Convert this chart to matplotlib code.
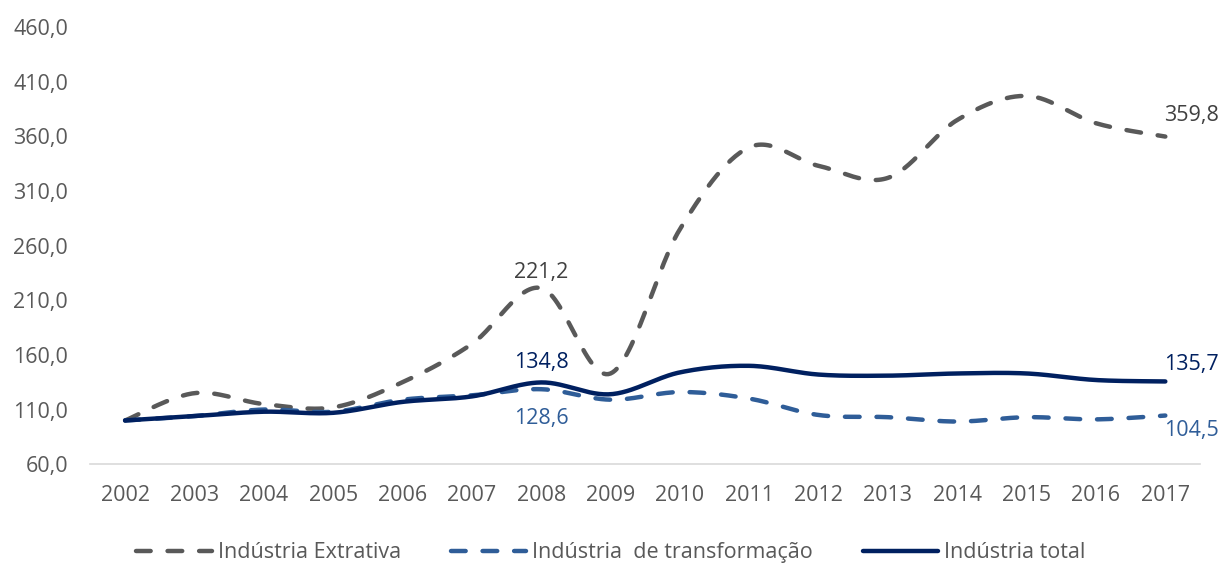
import numpy as np
import matplotlib
matplotlib.use("Agg")
import matplotlib.pyplot as plt

plt.rcParams['font.family'] = ['Open Sans', 'DejaVu Sans']

years = [str(y) for y in range(2002, 2018)]
extrativa = [100.0, 125.0, 115.0, 112.0, 135.0, 170.0, 221.2, 143.0,
             275.0, 350.0, 333.0, 322.0, 375.0, 397.0, 372.0, 359.8]
transformacao = [100.0, 104.0, 110.0, 108.0, 119.0, 123.0, 128.6, 119.0,
                 126.0, 120.0, 105.0, 103.0, 99.0, 103.0, 101.0, 104.5]
total = [100.0, 104.0, 108.0, 107.0, 117.0, 122.0, 134.8, 124.0,
         144.0, 150.0, 142.0, 141.0, 143.0, 143.0, 137.0, 135.7]
yticks = [60, 110, 160, 210, 260, 310, 360, 410, 460]

C_EXT = '#595959'
C_TRA = '#2F5D98'
C_TOT = '#002060'


def smooth(xs, ys, n=30):
    """Cubic Bezier smoothing through every point (Catmull-Rom tangents)."""
    xs = np.asarray(xs, float)
    ys = np.asarray(ys, float)
    px, py = [], []
    m = len(xs)
    for i in range(m - 1):
        x0, y0 = xs[max(i - 1, 0)], ys[max(i - 1, 0)]
        x1, y1 = xs[i], ys[i]
        x2, y2 = xs[i + 1], ys[i + 1]
        x3, y3 = xs[min(i + 2, m - 1)], ys[min(i + 2, m - 1)]
        c1x, c1y = x1 + (x2 - x0) / 6, y1 + (y2 - y0) / 6
        c2x, c2y = x2 - (x3 - x1) / 6, y2 - (y3 - y1) / 6
        t = np.linspace(0, 1, n, endpoint=(i == m - 2))
        a = (1 - t) ** 3
        b = 3 * (1 - t) ** 2 * t
        c = 3 * (1 - t) * t ** 2
        d = t ** 3
        px.append(a * x1 + b * c1x + c * c2x + d * x2)
        py.append(a * y1 + b * c1y + c * c2y + d * y2)
    return np.concatenate(px), np.concatenate(py)


fig = plt.figure(figsize=(12.22, 5.64), dpi=100)
ax = fig.add_axes([0.074, 0.177, 0.908, 0.775])

x = np.arange(len(years))
lw = 3.2
for vals, color, dashed, name in [
        (extrativa, C_EXT, True, 'Indústria Extrativa'),
        (transformacao, C_TRA, True, 'Indústria  de transformação'),
        (total, C_TOT, False, 'Indústria total')]:
    sx, sy = smooth(x, vals)
    if dashed:
        ax.plot(sx, sy, color=color, lw=lw, dashes=(3.3, 3.8),
                dash_capstyle='round', solid_capstyle='round', label=name)
    else:
        ax.plot(sx, sy, color=color, lw=lw, solid_capstyle='round', label=name)

fs = 15.5
# value labels
i08 = years.index('2008')
i17 = len(years) - 1


def lab(i, vals, color, dx, dy, ha='center', va='center'):
    ax.annotate(f"{vals[i]:.1f}".replace('.', ','), (x[i], vals[i]),
                xytext=(dx, dy), textcoords='offset points',
                ha=ha, va=va, color=color, fontsize=fs)


lab(i08, extrativa, '#404040', 0, 11)
lab(i08, total, C_TOT, 0, 14)
lab(i08, transformacao, C_TRA, 0, -21)
lab(i17, extrativa, '#404040', -1, 15, ha='left')
lab(i17, total, C_TOT, -1, 12, ha='left')
lab(i17, transformacao, C_TRA, -1, -11, ha='left')

ax.set_xlim(-0.5, len(years) - 0.5)
ax.set_ylim(60, 460)
ax.set_xticks(x)
ax.set_xticklabels(years)
ax.set_yticks(yticks)
ax.set_yticklabels([f"{v:.1f}".replace('.', ',') for v in yticks])
ax.tick_params(axis='both', length=0, labelsize=fs, colors='#595959')
ax.tick_params(axis='x', pad=15)
ax.tick_params(axis='y', pad=16)
for s in ['top', 'right', 'left']:
    ax.spines[s].set_visible(False)
ax.spines['bottom'].set_color('#D9D9D9')
ax.spines['bottom'].set_linewidth(1.2)

leg = fig.legend(loc='center', bbox_to_anchor=(0.5, 0.02), ncol=3,
                 frameon=False, fontsize=fs, handlelength=3.5,
                 columnspacing=2.3, handletextpad=0.3)
for t in leg.get_texts():
    t.set_color('#595959')

fig.savefig('out.png', dpi=100)
